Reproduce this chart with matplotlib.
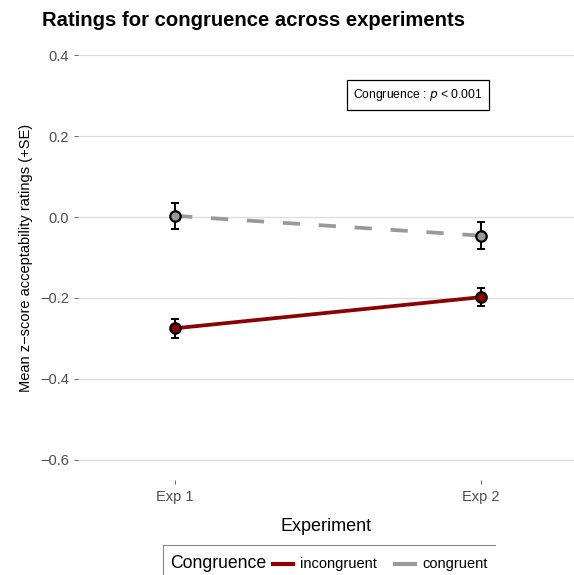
import matplotlib
matplotlib.use("Agg")
import matplotlib.pyplot as plt
from matplotlib.lines import Line2D

plt.rcParams["font.family"] = ["Liberation Sans", "DejaVu Sans"]

experiments = ["Exp 1", "Exp 2"]
conditions = ["incongruent", "congruent"]
means = {
    "incongruent": [-0.275, -0.198],
    "congruent": [0.003, -0.046],
}
ses = {
    "incongruent": [0.023, 0.023],
    "congruent": [0.032, 0.033],
}
colours = {"incongruent": "#8b0000", "congruent": "#999999"}
yticks = [0.4, 0.2, 0.0, -0.2, -0.4, -0.6]

W, H = 574, 575
fig = plt.figure(figsize=(W / 100, H / 100), dpi=100)
ax = fig.add_axes([78 / W, 1 - 480 / H, (W - 78) / W, 445 / H])

x = [1, 2]
for cond in ["congruent", "incongruent"]:
    style = "--" if cond == "congruent" else "-"
    ln, = ax.plot(x, means[cond], linestyle=style, color=colours[cond],
                  linewidth=2.7, zorder=2)
    if cond == "congruent":
        ln.set_dashes((4.6, 5))
    ax.errorbar(x, means[cond], yerr=ses[cond], fmt="none", ecolor="black",
                elinewidth=1.4, capsize=2.9, capthick=1.4, zorder=3)
    ax.plot(x, means[cond], "o", markersize=7.5, markerfacecolor=colours[cond],
            markeredgecolor="black", markeredgewidth=1.6, zorder=4)

ax.set_xlim(0.683, 2.304)
ax.set_ylim(-0.65, 0.45)
ax.set_xticks(x)
ax.set_xticklabels(experiments)
ax.set_yticks(yticks)
ax.set_yticklabels([f"{v:.1f}".replace("-", "\u2212") for v in yticks])
ax.tick_params(colors="#4d4d4d", labelsize=10.5, length=3, width=0.6)
ax.tick_params(axis="x", pad=4)
ax.grid(axis="y", color="#dcdcdc", linewidth=0.9)
ax.set_axisbelow(True)
for s in ax.spines.values():
    s.set_visible(False)

ax.set_xlabel("Experiment", fontsize=13, labelpad=10)
ax.set_ylabel("Mean z\u2212score acceptability ratings (+SE)", fontsize=10.5,
              labelpad=5)

ax.text(1.794, 0.302, "Congruence : $p$ < 0.001", fontsize=8.7,
        ha="center", va="center",
        bbox=dict(boxstyle="square,pad=0.55", facecolor="white",
                  edgecolor="black", linewidth=0.9))

fig.text(42 / W, 1 - 20 / H, "Ratings for congruence across experiments",
         fontsize=14.6, fontweight="bold", va="center", ha="left")

# legend drawn by hand so the title sits to the left of the keys
top = 1 - 545 / H
fig.lines.append(Line2D([163 / W, 495 / W], [top, top],
                        transform=fig.transFigure, color="#888888",
                        linewidth=0.8))
fig.lines.append(Line2D([163 / W, 163 / W], [0, top],
                        transform=fig.transFigure, color="#888888",
                        linewidth=0.8))
ly = 1 - 564 / H
fig.text(170 / W, ly, "Congruence", fontsize=12.7, va="center", ha="left")
key_x = {"incongruent": (273, 293, 300), "congruent": (395, 415, 422)}
for cond in conditions:
    x0, x1, tx = key_x[cond]
    fig.lines.append(Line2D([x0 / W, x1 / W], [ly, ly],
                            transform=fig.transFigure,
                            color=colours[cond], linewidth=3))
    fig.text(tx / W, ly, cond, fontsize=10.5, va="center", ha="left")

fig.savefig("out.png", dpi=100)
